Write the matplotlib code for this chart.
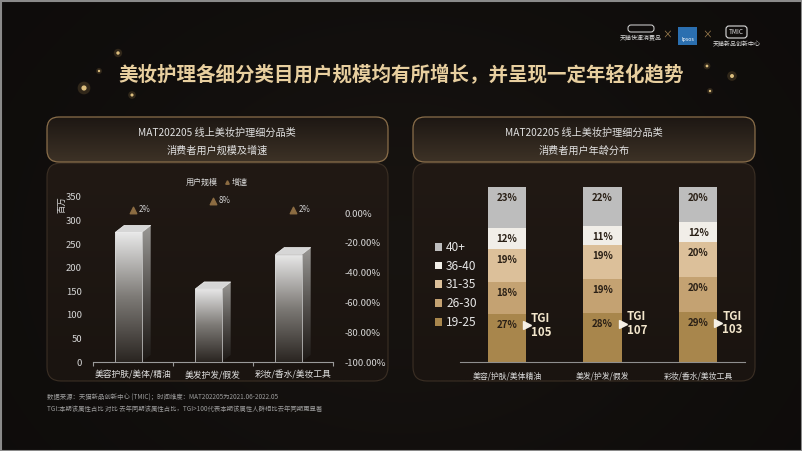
import numpy as np
import matplotlib
matplotlib.use('Agg')
import matplotlib.pyplot as plt
from matplotlib.patches import FancyBboxPatch, Polygon, Patch, Rectangle
from matplotlib.lines import Line2D
from matplotlib.colors import LinearSegmentedColormap, to_rgb
from matplotlib.transforms import ScaledTranslation

plt.rcParams['font.family'] = ['Noto Sans CJK SC', 'DejaVu Sans']

# ---- data ----
title = '美妆护理各细分类目用户规模均有所增长，并呈现一定年轻化趋势'
left_cats = ['美容护肤/美体/精油', '美发护发/假发', '彩妆/香水/美妆工具']
users = [275, 155, 228]          # 百万
growth = [2, 8, 2]               # %

right_cats = ['美容/护肤/美体精油', '美发/护发/假发', '彩妆/香水/美妆工具']
age_groups = ['19-25', '26-30', '31-35', '36-40', '40+']
age_share = {
    '19-25': [27, 28, 29],
    '26-30': [18, 19, 20],
    '31-35': [19, 19, 20],
    '36-40': [12, 11, 12],
    '40+':   [23, 22, 20],
}
tgi = [105, 107, 103]
age_colors = ['#a8864c', '#c4a272', '#dcc09a', '#f1eee8', '#bdbdbd']

footnotes = [
    '数据来源：天猫新品创新中心 (TMIC)；时间维度：MAT202205为2021.06-2022.05',
    'TGI:本期该属性占比 对比 去年同期该属性占比，TGI>100代表本期该属性人群相比去年同期更显著',
]

W, H = 802, 451


def px_rect(x0, y0, x1, y1):
    return [x0 / W, 1 - y1 / H, (x1 - x0) / W, (y1 - y0) / H]


def grad_box(ax, x0, y0, x1, y1, c_top, c_bot, edge, r, lw=0.8):
    box = FancyBboxPatch((x0, y0), x1 - x0, y1 - y0,
                         boxstyle=f'round,pad=0,rounding_size={r}',
                         facecolor='none', edgecolor=edge, lw=lw, zorder=3)
    ax.add_patch(box)
    a, b = np.array(to_rgb(c_top)), np.array(to_rgb(c_bot))
    t = np.linspace(0, 1, 64)[:, None, None]
    img = a * (1 - t) + b * t
    img = np.repeat(img, 2, axis=1)
    im = ax.imshow(img, extent=(x0, x1, y1, y0), aspect='auto', zorder=2,
                   interpolation='bilinear')
    im.set_clip_path(box)


fig = plt.figure(figsize=(8.02, 4.51), dpi=100)

# ---- background layer in pixel coordinates ----
bg = fig.add_axes([0, 0, 1, 1])
yy, xx = np.mgrid[0:1:90j, 0:1:160j]
glow = np.exp(-((xx - 0.5) ** 2 / 0.15 + (yy - 0.55) ** 2 / 0.3))
base = np.array([0.055, 0.047, 0.043])
warm = np.array([0.035, 0.028, 0.02])
bg.imshow(base + glow[..., None] * warm, extent=(0, W, H, 0), aspect='auto',
          interpolation='bilinear', zorder=0)

# bokeh dots
dots_x = [118, 99, 84, 132, 707, 732, 710]
dots_y = [53, 71, 88, 95, 66, 76, 91]
dots_s = [6, 3, 14, 5, 4, 8, 3]
bg.scatter(dots_x, dots_y, s=[s * 6 for s in dots_s], color='#c9a05a', alpha=0.18, lw=0, zorder=1)
bg.scatter(dots_x, dots_y, s=dots_s, color='#f0d08a', alpha=0.9, lw=0, zorder=1)

bg.text(W / 2, 75, title, ha='center', va='center', fontsize=14, fontweight='bold',
        color='#e8cf9f', zorder=5)

# logos (top right)
bg.text(641, 37, '天猫快速消费品', fontsize=4.3, color='#dddddd', ha='center', va='center', zorder=5)
bg.add_patch(FancyBboxPatch((628, 25), 26, 7, boxstyle='round,pad=0,rounding_size=3',
                            fc='none', ec='#dddddd', lw=0.7, zorder=5))
bg.text(667, 35, '×', fontsize=7, color='#a08050', ha='center', va='center', zorder=5)
bg.add_patch(Rectangle((678, 27), 19, 18, fc='#2b6fb0', ec='none', zorder=5))
bg.text(687.5, 40, 'Ipsos', fontsize=3.8, color='white', ha='center', va='center', zorder=6)
bg.text(707, 35, '×', fontsize=7, color='#a08050', ha='center', va='center', zorder=5)
bg.add_patch(FancyBboxPatch((726, 26), 21, 12, boxstyle='round,pad=0,rounding_size=3',
                            fc='none', ec='#dddddd', lw=0.8, zorder=5))
bg.text(736.5, 32.5, 'TMIC', fontsize=4.6, color='#dddddd', ha='center', va='center', zorder=5)
bg.text(737, 44, '天猫新品创新中心', fontsize=4.3, color='#dddddd', ha='center', va='center', zorder=5)

# panels
for x0, x1 in [(47, 388), (413, 755)]:
    grad_box(bg, x0, 163, x1, 381, '#211914', '#1a1410', '#3b2f24', 14, lw=0.8)
    grad_box(bg, x0, 117, x1, 162, '#1d1713', '#3d3226', '#8a6e4a', 12, lw=0.9)

for cx, sub in [(217, '消费者用户规模及增速'), (584, '消费者用户年龄分布')]:
    bg.text(cx, 133, 'MAT202205 线上美妆护理细分品类', ha='center', va='center',
            fontsize=7.3, color='#e2e2e2', zorder=5)
    bg.text(cx, 151, sub, ha='center', va='center', fontsize=7.3, color='#e2e2e2', zorder=5)

bg.text(62, 205, '百万', rotation=90, ha='center', va='center', fontsize=6,
        color='#d8d8d8', zorder=5)

for k, line in enumerate(footnotes):
    bg.text(47, 398 + k * 11, line, ha='left', va='center', fontsize=4.6,
            color='#9c9c9c', zorder=5)

bg.add_patch(Rectangle((0.5, 0.5), W - 1, H - 1, fc='none', ec='#8a8a8a', lw=1.5, zorder=6))
bg.set_xlim(0, W)
bg.set_ylim(H, 0)
bg.axis('off')

# ---- left chart: 3D-style bars + growth markers ----
ax1 = fig.add_axes(px_rect(93, 197, 333, 362))
ax1.patch.set_alpha(0)
bar_w = 0.33
ncat = len(left_cats)
dx = 9 / (240 / ncat)
dy = 7 / (165 / 350)

front_cmap = LinearSegmentedColormap.from_list('front', ['#2a2521', '#7d7a76', '#e9e9e9'])
side_cmap = LinearSegmentedColormap.from_list('side', ['#1c1815', '#55524f', '#9a9895'])
grad = np.linspace(1, 0, 256).reshape(-1, 1)

for i, v in enumerate(users):
    x0 = i - bar_w / 2 - dx / 2
    bar = ax1.bar(x0, v, width=bar_w, align='edge', facecolor='none',
                  edgecolor='#d8d8d8', lw=0.5, zorder=4)[0]
    im = ax1.imshow(grad, extent=(x0, x0 + bar_w, 0, v), aspect='auto',
                    cmap=front_cmap, zorder=3, interpolation='bilinear')
    im.set_clip_path(bar)
    side = Polygon([(x0 + bar_w, 0), (x0 + bar_w + dx, dy), (x0 + bar_w + dx, v + dy),
                    (x0 + bar_w, v)], closed=True, fc='none', ec='none', zorder=3)
    ax1.add_patch(side)
    im2 = ax1.imshow(grad, extent=(x0 + bar_w, x0 + bar_w + dx, 0, v + dy), aspect='auto',
                     cmap=side_cmap, zorder=3, interpolation='bilinear')
    im2.set_clip_path(side)
    top = Polygon([(x0, v), (x0 + dx, v + dy), (x0 + bar_w + dx, v + dy), (x0 + bar_w, v)],
                  closed=True, fc='#d6d6d6', ec='#f2f2f2', lw=0.5, zorder=4)
    ax1.add_patch(top)

ax1.set_xlim(-0.5, ncat - 0.5)
ax1.set_ylim(0, 350)
ax1.set_yticks(np.arange(0, 351, 50))
ax1.set_xticks(range(ncat))
ax1.set_xticklabels(left_cats)
ax1.set_xticks(np.arange(-0.5, ncat, 1), minor=True)
ax1.tick_params(axis='y', length=0, pad=8, labelsize=6.8, labelcolor='#d6d6d6')
ax1.tick_params(axis='x', which='major', length=0, pad=6, labelsize=6.3, labelcolor='#e0e0e0')
ax1.tick_params(axis='x', which='minor', length=3, color='#9a9a9a', width=0.8)
for s in ['top', 'left', 'right']:
    ax1.spines[s].set_visible(False)
ax1.spines['bottom'].set_color('#9a9a9a')
ax1.spines['bottom'].set_linewidth(0.8)

ax2 = ax1.twinx()
ax2.set_ylim(-100, 10.74)
ax2.set_yticks(np.arange(-100, 1, 20))
ax2.set_yticklabels([f'{t:.2f}%' for t in np.arange(-100, 1, 20)])
ax2.tick_params(axis='y', length=0, pad=8, labelsize=6.8, labelcolor='#d6d6d6')
for s in ax2.spines.values():
    s.set_visible(False)
ax2.scatter(range(ncat), growth, marker='^', s=22, color='#8c6c42', zorder=5)
for i, g in enumerate(growth):
    ax2.annotate(f'{g}%', (i, g), xytext=(6, 1), textcoords='offset pixels',
                 ha='left', va='center', fontsize=5.8, color='#cfcfcf')

handles = [Patch(facecolor='none', edgecolor='none'),
           Line2D([], [], marker='^', color='#8c6c42', ls='', ms=2.5)]
ax1.legend(handles, ['用户规模', '增速'], loc='center', bbox_to_anchor=(0.5, 1.09),
           ncol=2, frameon=False, fontsize=5.8, labelcolor='#d8d8d8',
           handlelength=0.6, handletextpad=0.3, columnspacing=0.8)

# ---- right chart: stacked age distribution ----
ax3 = fig.add_axes(px_rect(460, 187, 745, 362))
ax3.patch.set_alpha(0)
ncat2 = len(right_cats)
totals = np.sum([age_share[g] for g in age_groups], axis=0)
bw = 0.40
bottom = np.zeros(ncat2)
for g, c in zip(age_groups, age_colors):
    vals = np.array(age_share[g]) / totals * 100
    ax3.bar(range(ncat2), vals, width=bw, bottom=bottom, color=c, lw=0, zorder=2)
    for i in range(ncat2):
        ax3.annotate(f'{age_share[g][i]}%', (i, bottom[i] + vals[i]), xytext=(0, -11),
                     textcoords='offset pixels', ha='center', va='center',
                     fontsize=7, fontweight='bold', color='#2a2016')
    bottom += vals

first = np.array(age_share[age_groups[0]]) / totals * 100
shift = ScaledTranslation(0.01, -0.11, fig.dpi_scale_trans)
for i in range(ncat2):
    y_lab = first[i]
    ax3.plot([i + bw / 2], [y_lab], marker='>', ms=6, color='#f5f0e6', ls='',
             zorder=5, transform=ax3.transData + shift)
    ax3.annotate(f'TGI\n{tgi[i]}', (i + bw / 2, y_lab), xytext=(5, -11),
                 textcoords='offset pixels', ha='left', va='center', fontsize=8.3,
                 fontweight='bold', color='#f3e6cc', linespacing=1.05)

ax3.set_xlim(-0.49, ncat2 - 0.51)
ax3.set_ylim(0, 100)
ax3.set_yticks([])
ax3.set_xticks(range(ncat2))
ax3.set_xticklabels(right_cats)
ax3.tick_params(axis='x', length=0, pad=7, labelsize=5.7, labelcolor='#dcdcdc')
for s in ['top', 'left', 'right']:
    ax3.spines[s].set_visible(False)
ax3.spines['bottom'].set_color('#8f8f8f')
ax3.spines['bottom'].set_linewidth(0.8)

leg_handles = [Patch(facecolor=c) for c in age_colors][::-1]
fig.legend(leg_handles, age_groups[::-1], loc='center left',
           bbox_to_anchor=(424 / W, 1 - 285 / H), frameon=False, fontsize=8.6,
           labelcolor='#e6e6e6', handlelength=0.6, handleheight=0.6,
           handletextpad=0.35, labelspacing=0.48)

fig.savefig('out.png', dpi=100, facecolor='#0e0c0b')
